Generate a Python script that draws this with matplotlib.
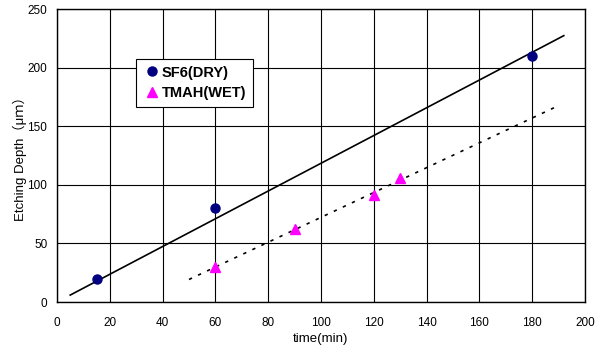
import numpy as np
import matplotlib
matplotlib.use("Agg")
from matplotlib import pyplot as plt

plt.rcParams['font.family'] = ['Liberation Sans', 'Noto Sans CJK JP', 'DejaVu Sans']

# Data
sf6_time = [15, 60, 180]
sf6_depth = [20, 80, 210]
tmah_time = [60, 90, 120, 130]
tmah_depth = [30, 62, 91, 106]

# Trend line extents (min)
sf6_fit_range = [5, 192]
tmah_fit_range = [50, 190]

x_ticks = list(range(0, 201, 20))
y_ticks = list(range(0, 251, 50))


fig = plt.figure(figsize=(6.04, 3.52), dpi=100)
ax = fig.add_axes([0.0944, 0.142, 0.874, 0.832])

# SF6: linear trend forced through origin
x = np.array(sf6_time, dtype=float)
y = np.array(sf6_depth, dtype=float)
k = (x * y).sum() / (x * x).sum()
xf = np.array(sf6_fit_range, dtype=float)
ax.plot(xf, k * xf, color='black', lw=1.2, zorder=2)

# TMAH: ordinary linear trend
slope, icpt = np.polyfit(tmah_time, tmah_depth, 1)
xf = np.array(tmah_fit_range, dtype=float)
ax.plot(xf, slope * xf + icpt, color='black', lw=1.2, ls=(0, (2, 4)), zorder=2)

ax.plot(sf6_time, sf6_depth, 'o', color='#000080', ms=6.5, ls='none',
        label='SF6(DRY)', zorder=3)
ax.plot(tmah_time, tmah_depth, '^', color='#FF00FF', ms=6.5, ls='none',
        label='TMAH(WET)', zorder=3)

ax.set_xlim(0, 200)
ax.set_ylim(0, 250)
ax.set_xticks(x_ticks)
ax.set_yticks(y_ticks)
ax.grid(True, color='black', lw=0.8)
ax.set_axisbelow(True)
ax.tick_params(labelsize=8.5, length=0)
ax.tick_params(axis='x', pad=11)
ax.tick_params(axis='y', pad=7)
for s in ax.spines.values():
    s.set_linewidth(1.0)

ax.set_xlabel('time(min)', fontsize=9.5, labelpad=3)
ax.set_ylabel('Etching Depth（μｍ）', fontsize=9.5, labelpad=0)

leg = ax.legend(loc='upper left', bbox_to_anchor=(0.15, 0.83), borderaxespad=0,
                prop={'weight': 'bold', 'size': 10.5}, fancybox=False,
                edgecolor='black', framealpha=1, handletextpad=0.1,
                handlelength=1.2, borderpad=0.45, labelspacing=0.45)
leg.get_frame().set_linewidth(0.8)

fig.savefig('out.png', dpi=100)
